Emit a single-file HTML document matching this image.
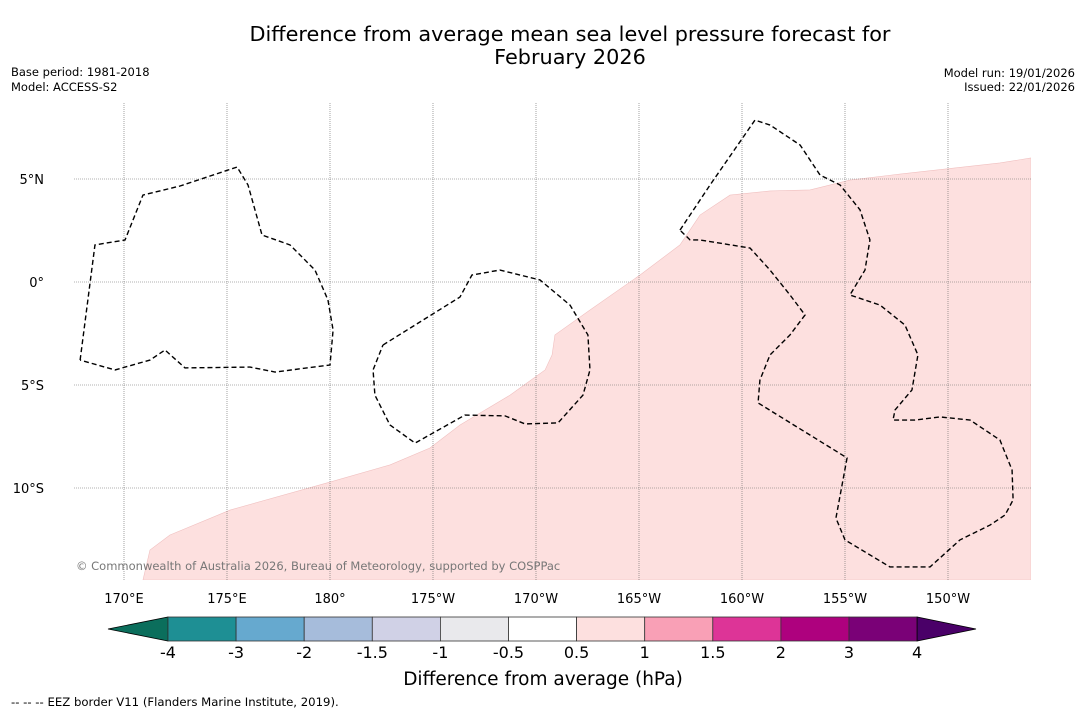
<!DOCTYPE html>
<html><head><meta charset="utf-8"><style>
body{margin:0;background:#fff;width:1085px;height:713px;overflow:hidden;font-family:"DejaVu Sans","Liberation Sans",sans-serif;}
svg text{font-family:"DejaVu Sans","Liberation Sans",sans-serif;}
</style></head><body>
<svg id="chart" width="1085" height="713" xmlns="http://www.w3.org/2000/svg">
<text x="570" y="41" font-size="20.8" text-anchor="middle">Difference from average mean sea level pressure forecast for</text>
<text x="570" y="64" font-size="20.8" text-anchor="middle">February 2026</text>
<text x="11" y="76" font-size="11.5">Base period: 1981-2018</text>
<text x="11" y="91" font-size="11.5">Model: ACCESS-S2</text>
<text x="1075" y="77" font-size="11.5" text-anchor="end">Model run: 19/01/2026</text>
<text x="1075" y="91" font-size="11.5" text-anchor="end">Issued: 22/01/2026</text>
<g id="map"></g>
<g id="cbar"></g>
<text x="543" y="685" font-size="18.5" text-anchor="middle">Difference from average (hPa)</text>
<text x="11" y="706" font-size="11.7">--  --  -- EEZ border V11 (Flanders Marine Institute, 2019).</text>
</svg>
<script>
const lonTicks=[170,175,180,185,190,195,200,205,210];
const lonLabels=["170°E","175°E","180°","175°W","170°W","165°W","160°W","155°W","150°W"];
const latTicks=[5,0,-5,-10];
const latLabels=["5°N","0°","5°S","10°S"];
const anomalyLon=[170.92,171.26,172.23,175.15,180,182.91,184.85,186.31,188.74,190.44,190.78,190.92,192.62,195.05,196.99,197.96,199.42,201.36,203.3,205.24,207.67,212.52,214.03,214.03];
const anomalyLat=[-14.47,-13.01,-12.28,-11.07,-9.71,-8.88,-8.06,-6.94,-5.49,-4.27,-3.54,-2.57,-1.36,0.34,1.8,3.25,4.22,4.42,4.47,4.95,5.24,5.78,6.02,-14.47];
const eez1Lon=[167.87,168.59,170.05,170.92,172.72,175.49,176.02,176.7,178.06,179.27,179.9,180.15,180,177.33,176.12,172.96,171.99,171.26,169.56,167.87];
const eez1Lat=[-3.79,1.8,2.04,4.22,4.66,5.58,4.71,2.28,1.8,0.58,-0.87,-2.33,-4.03,-4.37,-4.13,-4.17,-3.3,-3.79,-4.27,-3.79];
const eez2Lon=[182.57,186.31,186.89,188.25,190.19,191.65,192.52,192.62,192.28,191.07,189.47,188.5,186.55,184.13,182.91,182.18,182.09,182.57];
const eez2Lat=[-3.06,-0.73,0.34,0.58,0.1,-1.12,-2.57,-4.27,-5.49,-6.84,-6.89,-6.5,-6.46,-7.82,-6.94,-5.49,-4.27,-3.06];
const eez3Lon=[196.99,198.45,200.63,201.36,202.82,203.79,204.76,205.73,206.21,205.97,205.24,206.7,207.91,208.54,208.25,207.43,207.33,208.4,209.61,211.07,212.52,213.11,213.16,212.77,212.04,210.58,209.13,207.18,205.0,204.56,205.1,200.78,200.87,201.36,202.33,203.06,202.33,201.36,200.39,197.96,197.48,196.99];
const eez3Lat=[2.52,4.71,7.86,7.62,6.65,5.19,4.71,3.5,2.04,0.58,-0.63,-1.12,-2.09,-3.54,-5.24,-6.21,-6.7,-6.7,-6.55,-6.7,-7.67,-9.13,-10.58,-11.31,-11.8,-12.52,-13.83,-13.83,-12.52,-11.46,-8.54,-5.87,-4.76,-3.54,-2.57,-1.6,-0.63,0.58,1.65,2.04,2.04,2.52];
const cbarBounds=["-4","-3","-2","-1.5","-1","-0.5","0.5","1","1.5","2","3","4"];
const cbarColors=["#1e8f94","#66a9cf","#a6bcdb","#d0d1e6","#e9e9ec","#ffffff","#fde0df","#f9a0b6","#dd3497","#ae017e","#7a0177"];

const NS="http://www.w3.org/2000/svg";
const X0=74,X1=1031,Y0=103,Y1=580;
const x=lon=>124+(lon-170)*20.6;
const y=lat=>282-lat*20.6;
function el(t,a,p){const e=document.createElementNS(NS,t);for(const k in a)e.setAttribute(k,a[k]);p.appendChild(e);return e;}
const map=document.getElementById('map');
const defs=el('defs',{},map);
const cp=el('clipPath',{id:'clip'},defs);el('rect',{x:X0,y:Y0,width:X1-X0,height:Y1-Y0},cp);
const g=el('g',{'clip-path':'url(#clip)'},map);
const pts=(a,b)=>a.map((v,i)=>x(v)+','+y(b[i])).join(' ');
const poly=el('polygon',{points:pts(anomalyLon,anomalyLat),fill:'#fde0df',stroke:'#f0c0c0','stroke-width':0.6},g);


lonTicks.forEach((v,i)=>{
 const l=el('line',{x1:x(v),x2:x(v),y1:Y0,y2:Y1,stroke:'#666','stroke-width':0.6,'stroke-dasharray':'1,1'},g);
 
 
 const t=el('text',{x:x(v),y:603,'font-size':13,'text-anchor':'middle'},map);t.textContent=lonLabels[i];
 
 
});
latTicks.forEach((v,i)=>{
 const l=el('line',{x1:X0,x2:X1,y1:y(v),y2:y(v),stroke:'#666','stroke-width':0.6,'stroke-dasharray':'1,1'},g);
 
 
 const t=el('text',{x:44,y:y(v)+5,'font-size':13,'text-anchor':'end'},map);t.textContent=latLabels[i];
 
 
});
[[eez1Lon,eez1Lat],[eez2Lon,eez2Lat],[eez3Lon,eez3Lat]].forEach(([a,b])=>{
 const p=el('polyline',{points:pts(a,b),fill:'none',stroke:'#000','stroke-width':1.4,'stroke-dasharray':'5,3'},g);
 
 
});
const c=el('text',{x:76,y:570,'font-size':11.5,fill:'#777'},map);c.textContent="© Commonwealth of Australia 2026, Bureau of Meteorology, supported by COSPPac";



const cb=document.getElementById('cbar');
const bx0=168,bw=68.1,by=617,bh=24;
const t1=el('polygon',{points:`${bx0},${by} ${bx0},${by+bh} 108,${by+bh/2}`,fill:'#0b6e5c',stroke:'#000','stroke-width':0.8},cb);


cbarColors.forEach((col,i)=>{
 const r=el('rect',{x:bx0+i*bw,y:by,width:bw,height:bh,fill:col,stroke:'#333','stroke-width':0.8},cb);
 
 
});
const xe=bx0+cbarColors.length*bw;
const t2=el('polygon',{points:`${xe},${by} ${xe},${by+bh} 976,${by+bh/2}`,fill:'#4a0068',stroke:'#000','stroke-width':0.8},cb);


cbarBounds.forEach((s,i)=>{
 const t=el('text',{x:bx0+i*bw,y:658,'font-size':16,'text-anchor':'middle'},cb);t.textContent=s;
 
 
});
</script>
</body></html>
